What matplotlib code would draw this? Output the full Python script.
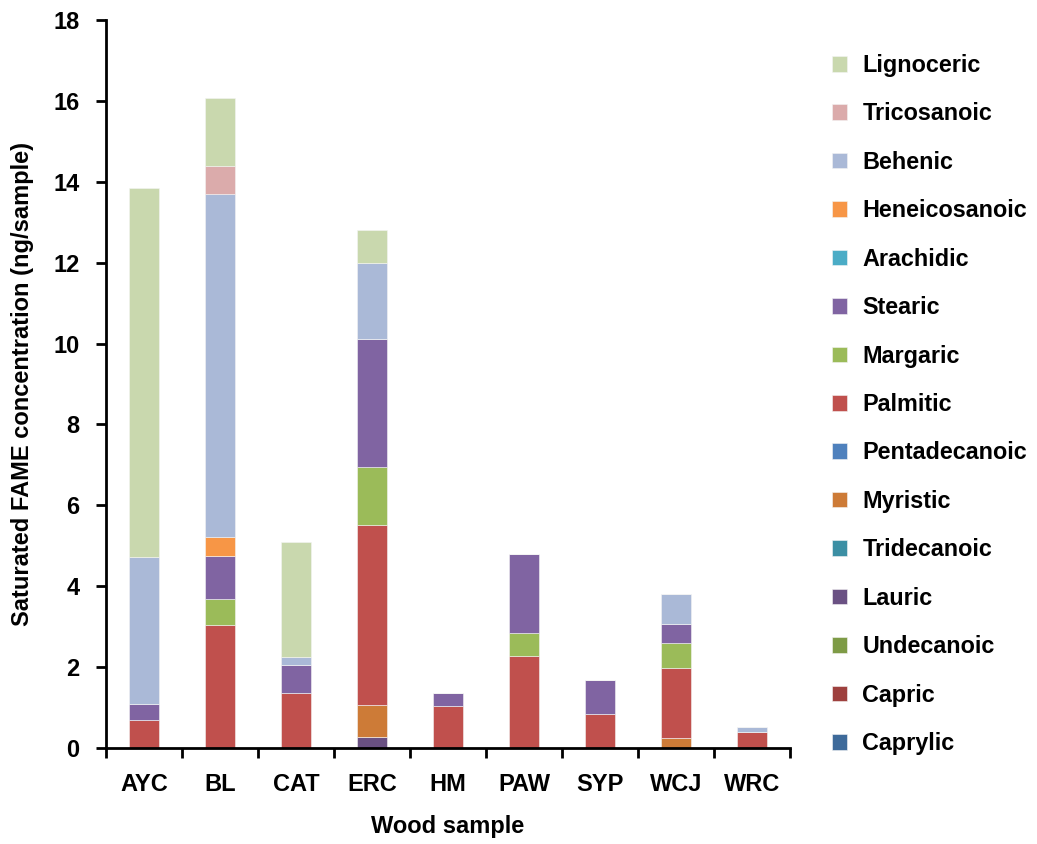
import numpy as np
import matplotlib
matplotlib.use('Agg')
import matplotlib.pyplot as plt

plt.rcParams['font.family'] = ['Liberation Sans', 'DejaVu Sans']
plt.rcParams['font.weight'] = 'bold'

samples = ['AYC', 'BL', 'CAT', 'ERC', 'HM', 'PAW', 'SYP', 'WCJ', 'WRC']

# stacking order, bottom to top
acids = ['Caprylic', 'Capric', 'Undecanoic', 'Lauric', 'Tridecanoic', 'Myristic',
         'Pentadecanoic', 'Palmitic', 'Margaric', 'Stearic', 'Arachidic',
         'Heneicosanoic', 'Behenic', 'Tricosanoic', 'Lignoceric']

caprylic      = [0, 0, 0, 0, 0, 0, 0, 0, 0]
capric        = [0, 0, 0, 0, 0, 0, 0, 0, 0]
undecanoic    = [0, 0, 0, 0, 0, 0, 0, 0, 0]
lauric        = [0, 0, 0, 0.28, 0, 0, 0, 0, 0]
tridecanoic   = [0, 0, 0, 0, 0, 0, 0, 0, 0]
myristic      = [0, 0, 0, 0.79, 0, 0, 0, 0.26, 0]
pentadecanoic = [0, 0, 0, 0, 0, 0, 0, 0, 0]
palmitic      = [0.70, 3.03, 1.36, 4.44, 1.03, 2.27, 0.85, 1.72, 0.40]
margaric      = [0, 0.65, 0, 1.45, 0, 0.57, 0, 0.61, 0]
stearic       = [0.38, 1.08, 0.70, 3.16, 0.34, 1.95, 0.84, 0.48, 0]
arachidic     = [0, 0, 0, 0, 0, 0, 0, 0, 0]
heneicosanoic = [0, 0.46, 0, 0, 0, 0, 0, 0, 0]
behenic       = [3.64, 8.48, 0.18, 1.86, 0, 0, 0, 0.73, 0.13]
tricosanoic   = [0, 0.68, 0, 0, 0, 0, 0, 0, 0]
lignoceric    = [9.13, 1.70, 2.86, 0.84, 0, 0, 0, 0, 0]

series = [caprylic, capric, undecanoic, lauric, tridecanoic, myristic,
          pentadecanoic, palmitic, margaric, stearic, arachidic,
          heneicosanoic, behenic, tricosanoic, lignoceric]

colors = ['#3E6A9A', '#9E403E', '#7E9B46', '#6A5183', '#3C8FA4', '#CD7B37',
          '#4F81BD', '#C0504D', '#9BBB59', '#8064A2', '#4BACC6',
          '#F79646', '#AAB9D7', '#DBABAB', '#C9D8AE']

fig = plt.figure(figsize=(10.37, 8.44), dpi=100)
ax = fig.add_axes([0.102, 0.1137, 0.660, 0.8626])

x = np.arange(len(samples))
bottom = np.zeros(len(samples))
handles = []
for name, vals, c in zip(acids, series, colors):
    vals = np.array(vals, dtype=float)
    b = ax.bar(x, vals, 0.4, bottom=bottom, color=c, edgecolor='#f4f4f4',
               linewidth=0.4, label=name)
    handles.append(b)
    bottom += vals

ax.set_xlim(-0.5, len(samples) - 0.5)
ax.set_ylim(0, 18)
ax.set_yticks(np.arange(0, 19, 2))
ax.set_xticks(x)
ax.set_xticklabels(samples)
ax.set_xticks(np.arange(-0.5, len(samples)), minor=True)
ax.tick_params(axis='x', which='major', length=0, pad=18, labelsize=17)
ax.tick_params(axis='x', which='minor', length=7, width=2, direction='out')
ax.tick_params(axis='y', length=7, width=2, direction='out', labelsize=17, pad=12)
for s in ['top', 'right']:
    ax.spines[s].set_visible(False)
for s in ['left', 'bottom']:
    ax.spines[s].set_linewidth(2)

ax.set_xlabel('Wood sample', fontsize=17, fontweight='bold', labelpad=14)
ax.set_ylabel('Saturated FAME concentration (ng/sample)', fontsize=17,
              fontweight='bold', labelpad=14)

leg = fig.legend(handles[::-1], acids[::-1], loc='upper left',
                 bbox_to_anchor=(0.782, 0.961), frameon=False,
                 prop={'size': 16.8, 'weight': 'bold'}, labelspacing=1.09,
                 handlelength=0.65, handleheight=0.65, handletextpad=0.65)

fig.savefig('out.png', dpi=100)
